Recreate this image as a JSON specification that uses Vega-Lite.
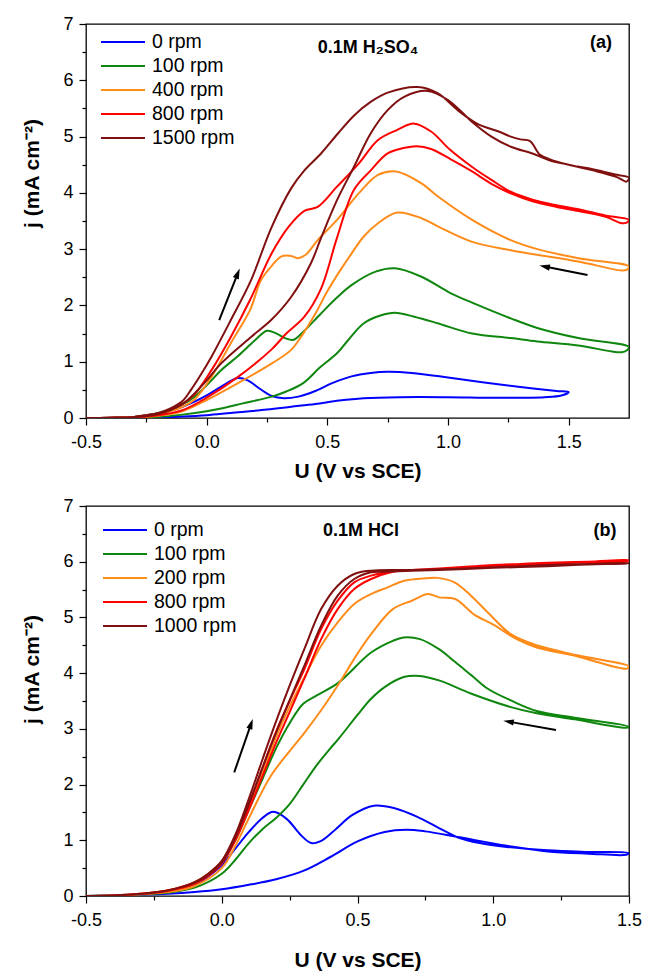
{
  "$schema": "https://vega.github.io/schema/vega-lite/v6.json",
  "background": "white",
  "padding": {"left": 20, "top": 14, "right": 5, "bottom": 5},
  "spacing": 14,
  "config": {
    "font": "Liberation Sans",
    "view": {"stroke": "#000000", "strokeWidth": 1.3},
    "axis": {"labelFont": "Liberation Sans", "labelFontSize": 18, "labelColor": "#000000", "titleFont": "Liberation Sans", "titleFontSize": 21, "titleFontWeight": "bold", "titleColor": "#000000", "tickColor": "#000000", "tickWidth": 1.2, "tickSize": 7, "domain": false, "grid": false, "labelFlush": false, "labelOverlap": false, "labelBound": false},
    "legend": {"orient": "none", "title": null, "symbolType": "stroke", "symbolSize": 1936, "symbolStrokeWidth": 2, "labelFont": "Liberation Sans", "labelFontSize": 19.5, "labelColor": "#000000", "labelOffset": 6, "rowPadding": 4, "clipHeight": 20, "padding": 0}
  },
  "resolve": {"scale": {"color": "independent"}, "legend": {"color": "independent"}},
  "datasets": {
    "a": [
      {"s":"0 rpm","o":1,"U":-0.5,"j":0},{"s":"0 rpm","o":2,"U":-0.4,"j":0.005},{"s":"0 rpm","o":3,"U":-0.3,"j":0.02},{"s":"0 rpm","o":4,"U":-0.25,"j":0.04},{"s":"0 rpm","o":5,"U":-0.2,"j":0.08},{"s":"0 rpm","o":6,"U":-0.15,"j":0.13},{"s":"0 rpm","o":7,"U":-0.1,"j":0.2},{"s":"0 rpm","o":8,"U":-0.05,"j":0.29},{"s":"0 rpm","o":9,"U":0.0,"j":0.4},{"s":"0 rpm","o":10,"U":0.05,"j":0.53},{"s":"0 rpm","o":11,"U":0.1,"j":0.66},{"s":"0 rpm","o":12,"U":0.13,"j":0.71},{"s":"0 rpm","o":13,"U":0.17,"j":0.67},{"s":"0 rpm","o":14,"U":0.22,"j":0.52},{"s":"0 rpm","o":15,"U":0.27,"j":0.39},{"s":"0 rpm","o":16,"U":0.32,"j":0.35},{"s":"0 rpm","o":17,"U":0.38,"j":0.38},{"s":"0 rpm","o":18,"U":0.45,"j":0.48},{"s":"0 rpm","o":19,"U":0.52,"j":0.62},{"s":"0 rpm","o":20,"U":0.6,"j":0.74},{"s":"0 rpm","o":21,"U":0.68,"j":0.8},{"s":"0 rpm","o":22,"U":0.75,"j":0.82},{"s":"0 rpm","o":23,"U":0.85,"j":0.8},{"s":"0 rpm","o":24,"U":1.0,"j":0.72},{"s":"0 rpm","o":25,"U":1.15,"j":0.63},{"s":"0 rpm","o":26,"U":1.3,"j":0.55},{"s":"0 rpm","o":27,"U":1.45,"j":0.48},{"s":"0 rpm","o":28,"U":1.5,"j":0.46},{"s":"0 rpm","o":29,"U":1.47,"j":0.4},{"s":"0 rpm","o":30,"U":1.4,"j":0.37},{"s":"0 rpm","o":31,"U":1.2,"j":0.36},{"s":"0 rpm","o":32,"U":1.0,"j":0.37},{"s":"0 rpm","o":33,"U":0.8,"j":0.37},{"s":"0 rpm","o":34,"U":0.65,"j":0.35},{"s":"0 rpm","o":35,"U":0.55,"j":0.31},{"s":"0 rpm","o":36,"U":0.45,"j":0.25},{"s":"0 rpm","o":37,"U":0.35,"j":0.2},{"s":"0 rpm","o":38,"U":0.25,"j":0.15},{"s":"0 rpm","o":39,"U":0.1,"j":0.09},{"s":"0 rpm","o":40,"U":0.0,"j":0.05},{"s":"0 rpm","o":41,"U":-0.1,"j":0.025},{"s":"0 rpm","o":42,"U":-0.2,"j":0.01},{"s":"0 rpm","o":43,"U":-0.35,"j":0.0},{"s":"0 rpm","o":44,"U":-0.5,"j":0},
      {"s":"100 rpm","o":1,"U":-0.5,"j":0},{"s":"100 rpm","o":2,"U":-0.4,"j":0.005},{"s":"100 rpm","o":3,"U":-0.3,"j":0.02},{"s":"100 rpm","o":4,"U":-0.25,"j":0.05},{"s":"100 rpm","o":5,"U":-0.2,"j":0.09},{"s":"100 rpm","o":6,"U":-0.15,"j":0.15},{"s":"100 rpm","o":7,"U":-0.1,"j":0.24},{"s":"100 rpm","o":8,"U":-0.05,"j":0.38},{"s":"100 rpm","o":9,"U":0.0,"j":0.58},{"s":"100 rpm","o":10,"U":0.06,"j":0.85},{"s":"100 rpm","o":11,"U":0.13,"j":1.1},{"s":"100 rpm","o":12,"U":0.2,"j":1.38},{"s":"100 rpm","o":13,"U":0.25,"j":1.55},{"s":"100 rpm","o":14,"U":0.29,"j":1.5},{"s":"100 rpm","o":15,"U":0.33,"j":1.41},{"s":"100 rpm","o":16,"U":0.36,"j":1.39},{"s":"100 rpm","o":17,"U":0.4,"j":1.53},{"s":"100 rpm","o":18,"U":0.47,"j":1.84},{"s":"100 rpm","o":19,"U":0.54,"j":2.14},{"s":"100 rpm","o":20,"U":0.6,"j":2.36},{"s":"100 rpm","o":21,"U":0.7,"j":2.6},{"s":"100 rpm","o":22,"U":0.78,"j":2.66},{"s":"100 rpm","o":23,"U":0.89,"j":2.51},{"s":"100 rpm","o":24,"U":1.01,"j":2.22},{"s":"100 rpm","o":25,"U":1.1,"j":2.05},{"s":"100 rpm","o":26,"U":1.26,"j":1.77},{"s":"100 rpm","o":27,"U":1.37,"j":1.6},{"s":"100 rpm","o":28,"U":1.54,"j":1.42},{"s":"100 rpm","o":29,"U":1.75,"j":1.26},{"s":"100 rpm","o":30,"U":1.74,"j":1.2},{"s":"100 rpm","o":31,"U":1.72,"j":1.17},{"s":"100 rpm","o":32,"U":1.68,"j":1.18},{"s":"100 rpm","o":33,"U":1.54,"j":1.29},{"s":"100 rpm","o":34,"U":1.37,"j":1.36},{"s":"100 rpm","o":35,"U":1.26,"j":1.42},{"s":"100 rpm","o":36,"U":1.1,"j":1.5},{"s":"100 rpm","o":37,"U":0.96,"j":1.68},{"s":"100 rpm","o":38,"U":0.86,"j":1.8},{"s":"100 rpm","o":39,"U":0.78,"j":1.87},{"s":"100 rpm","o":40,"U":0.72,"j":1.82},{"s":"100 rpm","o":41,"U":0.65,"j":1.68},{"s":"100 rpm","o":42,"U":0.58,"j":1.35},{"s":"100 rpm","o":43,"U":0.54,"j":1.15},{"s":"100 rpm","o":44,"U":0.47,"j":0.9},{"s":"100 rpm","o":45,"U":0.4,"j":0.62},{"s":"100 rpm","o":46,"U":0.33,"j":0.47},{"s":"100 rpm","o":47,"U":0.27,"j":0.38},{"s":"100 rpm","o":48,"U":0.15,"j":0.26},{"s":"100 rpm","o":49,"U":0.06,"j":0.17},{"s":"100 rpm","o":50,"U":0.0,"j":0.12},{"s":"100 rpm","o":51,"U":-0.1,"j":0.06},{"s":"100 rpm","o":52,"U":-0.2,"j":0.02},{"s":"100 rpm","o":53,"U":-0.35,"j":0.005},{"s":"100 rpm","o":54,"U":-0.5,"j":0},
      {"s":"400 rpm","o":1,"U":-0.5,"j":0},{"s":"400 rpm","o":2,"U":-0.4,"j":0.005},{"s":"400 rpm","o":3,"U":-0.3,"j":0.02},{"s":"400 rpm","o":4,"U":-0.25,"j":0.04},{"s":"400 rpm","o":5,"U":-0.2,"j":0.07},{"s":"400 rpm","o":6,"U":-0.15,"j":0.12},{"s":"400 rpm","o":7,"U":-0.1,"j":0.2},{"s":"400 rpm","o":8,"U":-0.05,"j":0.33},{"s":"400 rpm","o":9,"U":0.02,"j":0.73},{"s":"400 rpm","o":10,"U":0.1,"j":1.33},{"s":"400 rpm","o":11,"U":0.18,"j":1.92},{"s":"400 rpm","o":12,"U":0.225,"j":2.45},{"s":"400 rpm","o":13,"U":0.267,"j":2.69},{"s":"400 rpm","o":14,"U":0.31,"j":2.87},{"s":"400 rpm","o":15,"U":0.35,"j":2.88},{"s":"400 rpm","o":16,"U":0.38,"j":2.84},{"s":"400 rpm","o":17,"U":0.41,"j":2.9},{"s":"400 rpm","o":18,"U":0.46,"j":3.16},{"s":"400 rpm","o":19,"U":0.54,"j":3.52},{"s":"400 rpm","o":20,"U":0.63,"j":3.99},{"s":"400 rpm","o":21,"U":0.71,"j":4.32},{"s":"400 rpm","o":22,"U":0.785,"j":4.38},{"s":"400 rpm","o":23,"U":0.89,"j":4.17},{"s":"400 rpm","o":24,"U":0.96,"j":3.93},{"s":"400 rpm","o":25,"U":1.1,"j":3.52},{"s":"400 rpm","o":26,"U":1.26,"j":3.16},{"s":"400 rpm","o":27,"U":1.37,"j":3.0},{"s":"400 rpm","o":28,"U":1.54,"j":2.84},{"s":"400 rpm","o":29,"U":1.75,"j":2.69},{"s":"400 rpm","o":30,"U":1.74,"j":2.63},{"s":"400 rpm","o":31,"U":1.72,"j":2.62},{"s":"400 rpm","o":32,"U":1.54,"j":2.78},{"s":"400 rpm","o":33,"U":1.37,"j":2.9},{"s":"400 rpm","o":34,"U":1.26,"j":2.98},{"s":"400 rpm","o":35,"U":1.1,"j":3.13},{"s":"400 rpm","o":36,"U":0.96,"j":3.4},{"s":"400 rpm","o":37,"U":0.89,"j":3.55},{"s":"400 rpm","o":38,"U":0.79,"j":3.65},{"s":"400 rpm","o":39,"U":0.71,"j":3.46},{"s":"400 rpm","o":40,"U":0.65,"j":3.22},{"s":"400 rpm","o":41,"U":0.6,"j":2.92},{"s":"400 rpm","o":42,"U":0.55,"j":2.6},{"s":"400 rpm","o":43,"U":0.5,"j":2.25},{"s":"400 rpm","o":44,"U":0.45,"j":1.85},{"s":"400 rpm","o":45,"U":0.4,"j":1.5},{"s":"400 rpm","o":46,"U":0.35,"j":1.21},{"s":"400 rpm","o":47,"U":0.27,"j":0.97},{"s":"400 rpm","o":48,"U":0.13,"j":0.62},{"s":"400 rpm","o":49,"U":0.0,"j":0.32},{"s":"400 rpm","o":50,"U":-0.1,"j":0.12},{"s":"400 rpm","o":51,"U":-0.2,"j":0.04},{"s":"400 rpm","o":52,"U":-0.35,"j":0.005},{"s":"400 rpm","o":53,"U":-0.5,"j":0},
      {"s":"800 rpm","o":1,"U":-0.5,"j":0},{"s":"800 rpm","o":2,"U":-0.4,"j":0.005},{"s":"800 rpm","o":3,"U":-0.3,"j":0.02},{"s":"800 rpm","o":4,"U":-0.25,"j":0.05},{"s":"800 rpm","o":5,"U":-0.2,"j":0.08},{"s":"800 rpm","o":6,"U":-0.15,"j":0.15},{"s":"800 rpm","o":7,"U":-0.1,"j":0.25},{"s":"800 rpm","o":8,"U":-0.05,"j":0.42},{"s":"800 rpm","o":9,"U":0.02,"j":0.85},{"s":"800 rpm","o":10,"U":0.1,"j":1.44},{"s":"800 rpm","o":11,"U":0.18,"j":2.1},{"s":"800 rpm","o":12,"U":0.27,"j":2.93},{"s":"800 rpm","o":13,"U":0.34,"j":3.4},{"s":"800 rpm","o":14,"U":0.405,"j":3.68},{"s":"800 rpm","o":15,"U":0.46,"j":3.75},{"s":"800 rpm","o":16,"U":0.54,"j":4.11},{"s":"800 rpm","o":17,"U":0.63,"j":4.52},{"s":"800 rpm","o":18,"U":0.71,"j":4.94},{"s":"800 rpm","o":19,"U":0.79,"j":5.12},{"s":"800 rpm","o":20,"U":0.86,"j":5.23},{"s":"800 rpm","o":21,"U":0.93,"j":5.09},{"s":"800 rpm","o":22,"U":1.01,"j":4.76},{"s":"800 rpm","o":23,"U":1.1,"j":4.46},{"s":"800 rpm","o":24,"U":1.18,"j":4.23},{"s":"800 rpm","o":25,"U":1.26,"j":4.02},{"s":"800 rpm","o":26,"U":1.35,"j":3.88},{"s":"800 rpm","o":27,"U":1.45,"j":3.78},{"s":"800 rpm","o":28,"U":1.55,"j":3.7},{"s":"800 rpm","o":29,"U":1.65,"j":3.6},{"s":"800 rpm","o":30,"U":1.75,"j":3.52},{"s":"800 rpm","o":31,"U":1.74,"j":3.47},{"s":"800 rpm","o":32,"U":1.72,"j":3.46},{"s":"800 rpm","o":33,"U":1.65,"j":3.58},{"s":"800 rpm","o":34,"U":1.55,"j":3.67},{"s":"800 rpm","o":35,"U":1.45,"j":3.75},{"s":"800 rpm","o":36,"U":1.35,"j":3.85},{"s":"800 rpm","o":37,"U":1.26,"j":3.99},{"s":"800 rpm","o":38,"U":1.18,"j":4.16},{"s":"800 rpm","o":39,"U":1.1,"j":4.38},{"s":"800 rpm","o":40,"U":1.01,"j":4.6},{"s":"800 rpm","o":41,"U":0.93,"j":4.78},{"s":"800 rpm","o":42,"U":0.87,"j":4.83},{"s":"800 rpm","o":43,"U":0.82,"j":4.8},{"s":"800 rpm","o":44,"U":0.75,"j":4.7},{"s":"800 rpm","o":45,"U":0.68,"j":4.4},{"s":"800 rpm","o":46,"U":0.61,"j":4.05},{"s":"800 rpm","o":47,"U":0.54,"j":3.2},{"s":"800 rpm","o":48,"U":0.474,"j":2.3},{"s":"800 rpm","o":49,"U":0.405,"j":1.8},{"s":"800 rpm","o":50,"U":0.33,"j":1.5},{"s":"800 rpm","o":51,"U":0.267,"j":1.21},{"s":"800 rpm","o":52,"U":0.13,"j":0.73},{"s":"800 rpm","o":53,"U":0.0,"j":0.36},{"s":"800 rpm","o":54,"U":-0.1,"j":0.14},{"s":"800 rpm","o":55,"U":-0.2,"j":0.05},{"s":"800 rpm","o":56,"U":-0.35,"j":0.005},{"s":"800 rpm","o":57,"U":-0.5,"j":0},
      {"s":"1500 rpm","o":1,"U":-0.5,"j":0},{"s":"1500 rpm","o":2,"U":-0.4,"j":0.005},{"s":"1500 rpm","o":3,"U":-0.3,"j":0.02},{"s":"1500 rpm","o":4,"U":-0.25,"j":0.05},{"s":"1500 rpm","o":5,"U":-0.2,"j":0.09},{"s":"1500 rpm","o":6,"U":-0.15,"j":0.17},{"s":"1500 rpm","o":7,"U":-0.1,"j":0.3},{"s":"1500 rpm","o":8,"U":-0.065,"j":0.5},{"s":"1500 rpm","o":9,"U":-0.02,"j":0.8},{"s":"1500 rpm","o":10,"U":0.02,"j":1.09},{"s":"1500 rpm","o":11,"U":0.1,"j":1.74},{"s":"1500 rpm","o":12,"U":0.184,"j":2.45},{"s":"1500 rpm","o":13,"U":0.267,"j":3.37},{"s":"1500 rpm","o":14,"U":0.35,"j":4.08},{"s":"1500 rpm","o":15,"U":0.405,"j":4.4},{"s":"1500 rpm","o":16,"U":0.474,"j":4.7},{"s":"1500 rpm","o":17,"U":0.543,"j":5.05},{"s":"1500 rpm","o":18,"U":0.612,"j":5.38},{"s":"1500 rpm","o":19,"U":0.681,"j":5.62},{"s":"1500 rpm","o":20,"U":0.75,"j":5.78},{"s":"1500 rpm","o":21,"U":0.874,"j":5.88},{"s":"1500 rpm","o":22,"U":0.957,"j":5.77},{"s":"1500 rpm","o":23,"U":1.04,"j":5.47},{"s":"1500 rpm","o":24,"U":1.12,"j":5.23},{"s":"1500 rpm","o":25,"U":1.21,"j":5.09},{"s":"1500 rpm","o":26,"U":1.26,"j":5.0},{"s":"1500 rpm","o":27,"U":1.3,"j":4.95},{"s":"1500 rpm","o":28,"U":1.34,"j":4.92},{"s":"1500 rpm","o":29,"U":1.38,"j":4.68},{"s":"1500 rpm","o":30,"U":1.42,"j":4.6},{"s":"1500 rpm","o":31,"U":1.5,"j":4.5},{"s":"1500 rpm","o":32,"U":1.6,"j":4.42},{"s":"1500 rpm","o":33,"U":1.7,"j":4.32},{"s":"1500 rpm","o":34,"U":1.75,"j":4.27},{"s":"1500 rpm","o":35,"U":1.74,"j":4.2},{"s":"1500 rpm","o":36,"U":1.7,"j":4.28},{"s":"1500 rpm","o":37,"U":1.6,"j":4.4},{"s":"1500 rpm","o":38,"U":1.5,"j":4.5},{"s":"1500 rpm","o":39,"U":1.42,"j":4.58},{"s":"1500 rpm","o":40,"U":1.35,"j":4.7},{"s":"1500 rpm","o":41,"U":1.26,"j":4.82},{"s":"1500 rpm","o":42,"U":1.18,"j":5.0},{"s":"1500 rpm","o":43,"U":1.1,"j":5.26},{"s":"1500 rpm","o":44,"U":1.0,"j":5.65},{"s":"1500 rpm","o":45,"U":0.916,"j":5.81},{"s":"1500 rpm","o":46,"U":0.82,"j":5.71},{"s":"1500 rpm","o":47,"U":0.75,"j":5.47},{"s":"1500 rpm","o":48,"U":0.68,"j":5.06},{"s":"1500 rpm","o":49,"U":0.61,"j":4.46},{"s":"1500 rpm","o":50,"U":0.54,"j":3.87},{"s":"1500 rpm","o":51,"U":0.474,"j":3.2},{"s":"1500 rpm","o":52,"U":0.432,"j":2.75},{"s":"1500 rpm","o":53,"U":0.35,"j":2.15},{"s":"1500 rpm","o":54,"U":0.267,"j":1.74},{"s":"1500 rpm","o":55,"U":0.184,"j":1.44},{"s":"1500 rpm","o":56,"U":0.06,"j":0.97},{"s":"1500 rpm","o":57,"U":-0.01,"j":0.62},{"s":"1500 rpm","o":58,"U":-0.1,"j":0.25},{"s":"1500 rpm","o":59,"U":-0.2,"j":0.07},{"s":"1500 rpm","o":60,"U":-0.35,"j":0.005},{"s":"1500 rpm","o":61,"U":-0.5,"j":0}
    ],
    "b": [
      {"s":"0 rpm","o":1,"U":-0.5,"j":0},{"s":"0 rpm","o":2,"U":-0.4,"j":0.01},{"s":"0 rpm","o":3,"U":-0.3,"j":0.03},{"s":"0 rpm","o":4,"U":-0.2,"j":0.07},{"s":"0 rpm","o":5,"U":-0.1,"j":0.2},{"s":"0 rpm","o":6,"U":-0.05,"j":0.35},{"s":"0 rpm","o":7,"U":0.0,"j":0.55},{"s":"0 rpm","o":8,"U":0.05,"j":0.85},{"s":"0 rpm","o":9,"U":0.1,"j":1.15},{"s":"0 rpm","o":10,"U":0.15,"j":1.4},{"s":"0 rpm","o":11,"U":0.19,"j":1.51},{"s":"0 rpm","o":12,"U":0.24,"j":1.38},{"s":"0 rpm","o":13,"U":0.29,"j":1.1},{"s":"0 rpm","o":14,"U":0.33,"j":0.95},{"s":"0 rpm","o":15,"U":0.37,"j":1.0},{"s":"0 rpm","o":16,"U":0.42,"j":1.2},{"s":"0 rpm","o":17,"U":0.48,"j":1.45},{"s":"0 rpm","o":18,"U":0.56,"j":1.62},{"s":"0 rpm","o":19,"U":0.64,"j":1.57},{"s":"0 rpm","o":20,"U":0.72,"j":1.42},{"s":"0 rpm","o":21,"U":0.8,"j":1.22},{"s":"0 rpm","o":22,"U":0.87,"j":1.05},{"s":"0 rpm","o":23,"U":0.95,"j":0.95},{"s":"0 rpm","o":24,"U":1.05,"j":0.88},{"s":"0 rpm","o":25,"U":1.2,"j":0.82},{"s":"0 rpm","o":26,"U":1.35,"j":0.79},{"s":"0 rpm","o":27,"U":1.5,"j":0.77},{"s":"0 rpm","o":28,"U":1.49,"j":0.74},{"s":"0 rpm","o":29,"U":1.35,"j":0.76},{"s":"0 rpm","o":30,"U":1.2,"j":0.8},{"s":"0 rpm","o":31,"U":1.05,"j":0.9},{"s":"0 rpm","o":32,"U":0.87,"j":1.06},{"s":"0 rpm","o":33,"U":0.75,"j":1.16},{"s":"0 rpm","o":34,"U":0.68,"j":1.19},{"s":"0 rpm","o":35,"U":0.6,"j":1.15},{"s":"0 rpm","o":36,"U":0.5,"j":0.98},{"s":"0 rpm","o":37,"U":0.4,"j":0.7},{"s":"0 rpm","o":38,"U":0.3,"j":0.45},{"s":"0 rpm","o":39,"U":0.2,"j":0.3},{"s":"0 rpm","o":40,"U":0.1,"j":0.2},{"s":"0 rpm","o":41,"U":0.0,"j":0.12},{"s":"0 rpm","o":42,"U":-0.1,"j":0.07},{"s":"0 rpm","o":43,"U":-0.2,"j":0.04},{"s":"0 rpm","o":44,"U":-0.35,"j":0.02},{"s":"0 rpm","o":45,"U":-0.5,"j":0},
      {"s":"100 rpm","o":1,"U":-0.5,"j":0},{"s":"100 rpm","o":2,"U":-0.4,"j":0.01},{"s":"100 rpm","o":3,"U":-0.3,"j":0.03},{"s":"100 rpm","o":4,"U":-0.2,"j":0.08},{"s":"100 rpm","o":5,"U":-0.1,"j":0.22},{"s":"100 rpm","o":6,"U":-0.05,"j":0.38},{"s":"100 rpm","o":7,"U":0.0,"j":0.6},{"s":"100 rpm","o":8,"U":0.05,"j":1.0},{"s":"100 rpm","o":9,"U":0.1,"j":1.55},{"s":"100 rpm","o":10,"U":0.15,"j":2.1},{"s":"100 rpm","o":11,"U":0.2,"j":2.65},{"s":"100 rpm","o":12,"U":0.25,"j":3.1},{"s":"100 rpm","o":13,"U":0.3,"j":3.45},{"s":"100 rpm","o":14,"U":0.35,"j":3.6},{"s":"100 rpm","o":15,"U":0.43,"j":3.83},{"s":"100 rpm","o":16,"U":0.55,"j":4.37},{"s":"100 rpm","o":17,"U":0.63,"j":4.58},{"s":"100 rpm","o":18,"U":0.67,"j":4.64},{"s":"100 rpm","o":19,"U":0.73,"j":4.61},{"s":"100 rpm","o":20,"U":0.8,"j":4.43},{"s":"100 rpm","o":21,"U":0.86,"j":4.2},{"s":"100 rpm","o":22,"U":0.92,"j":3.96},{"s":"100 rpm","o":23,"U":0.98,"j":3.72},{"s":"100 rpm","o":24,"U":1.065,"j":3.51},{"s":"100 rpm","o":25,"U":1.16,"j":3.32},{"s":"100 rpm","o":26,"U":1.3,"j":3.2},{"s":"100 rpm","o":27,"U":1.5,"j":3.04},{"s":"100 rpm","o":28,"U":1.49,"j":3.02},{"s":"100 rpm","o":29,"U":1.3,"j":3.17},{"s":"100 rpm","o":30,"U":1.16,"j":3.28},{"s":"100 rpm","o":31,"U":1.065,"j":3.39},{"s":"100 rpm","o":32,"U":0.92,"j":3.63},{"s":"100 rpm","o":33,"U":0.8,"j":3.87},{"s":"100 rpm","o":34,"U":0.73,"j":3.95},{"s":"100 rpm","o":35,"U":0.67,"j":3.93},{"s":"100 rpm","o":36,"U":0.6,"j":3.75},{"s":"100 rpm","o":37,"U":0.55,"j":3.54},{"s":"100 rpm","o":38,"U":0.5,"j":3.25},{"s":"100 rpm","o":39,"U":0.43,"j":2.82},{"s":"100 rpm","o":40,"U":0.4,"j":2.65},{"s":"100 rpm","o":41,"U":0.35,"j":2.35},{"s":"100 rpm","o":42,"U":0.3,"j":2.0},{"s":"100 rpm","o":43,"U":0.25,"j":1.65},{"s":"100 rpm","o":44,"U":0.2,"j":1.4},{"s":"100 rpm","o":45,"U":0.15,"j":1.2},{"s":"100 rpm","o":46,"U":0.1,"j":0.95},{"s":"100 rpm","o":47,"U":0.05,"j":0.65},{"s":"100 rpm","o":48,"U":0.0,"j":0.4},{"s":"100 rpm","o":49,"U":-0.1,"j":0.15},{"s":"100 rpm","o":50,"U":-0.2,"j":0.06},{"s":"100 rpm","o":51,"U":-0.35,"j":0.02},{"s":"100 rpm","o":52,"U":-0.5,"j":0},
      {"s":"200 rpm","o":1,"U":-0.5,"j":0},{"s":"200 rpm","o":2,"U":-0.4,"j":0.01},{"s":"200 rpm","o":3,"U":-0.3,"j":0.04},{"s":"200 rpm","o":4,"U":-0.2,"j":0.1},{"s":"200 rpm","o":5,"U":-0.1,"j":0.25},{"s":"200 rpm","o":6,"U":-0.05,"j":0.4},{"s":"200 rpm","o":7,"U":0.0,"j":0.62},{"s":"200 rpm","o":8,"U":0.05,"j":1.05},{"s":"200 rpm","o":9,"U":0.1,"j":1.6},{"s":"200 rpm","o":10,"U":0.15,"j":2.2},{"s":"200 rpm","o":11,"U":0.2,"j":2.85},{"s":"200 rpm","o":12,"U":0.25,"j":3.4},{"s":"200 rpm","o":13,"U":0.3,"j":3.88},{"s":"200 rpm","o":14,"U":0.366,"j":4.49},{"s":"200 rpm","o":15,"U":0.427,"j":4.91},{"s":"200 rpm","o":16,"U":0.488,"j":5.24},{"s":"200 rpm","o":17,"U":0.55,"j":5.42},{"s":"200 rpm","o":18,"U":0.611,"j":5.54},{"s":"200 rpm","o":19,"U":0.672,"j":5.66},{"s":"200 rpm","o":20,"U":0.74,"j":5.7},{"s":"200 rpm","o":21,"U":0.795,"j":5.71},{"s":"200 rpm","o":22,"U":0.857,"j":5.63},{"s":"200 rpm","o":23,"U":0.918,"j":5.39},{"s":"200 rpm","o":24,"U":0.98,"j":5.09},{"s":"200 rpm","o":25,"U":1.065,"j":4.7},{"s":"200 rpm","o":26,"U":1.16,"j":4.5},{"s":"200 rpm","o":27,"U":1.31,"j":4.32},{"s":"200 rpm","o":28,"U":1.5,"j":4.12},{"s":"200 rpm","o":29,"U":1.49,"j":4.08},{"s":"200 rpm","o":30,"U":1.31,"j":4.3},{"s":"200 rpm","o":31,"U":1.16,"j":4.46},{"s":"200 rpm","o":32,"U":1.09,"j":4.6},{"s":"200 rpm","o":33,"U":1.0,"j":4.87},{"s":"200 rpm","o":34,"U":0.93,"j":5.05},{"s":"200 rpm","o":35,"U":0.86,"j":5.33},{"s":"200 rpm","o":36,"U":0.8,"j":5.36},{"s":"200 rpm","o":37,"U":0.76,"j":5.42},{"s":"200 rpm","o":38,"U":0.7,"j":5.3},{"s":"200 rpm","o":39,"U":0.63,"j":5.15},{"s":"200 rpm","o":40,"U":0.55,"j":4.7},{"s":"200 rpm","o":41,"U":0.5,"j":4.35},{"s":"200 rpm","o":42,"U":0.43,"j":3.8},{"s":"200 rpm","o":43,"U":0.37,"j":3.36},{"s":"200 rpm","o":44,"U":0.3,"j":2.9},{"s":"200 rpm","o":45,"U":0.25,"j":2.6},{"s":"200 rpm","o":46,"U":0.18,"j":2.15},{"s":"200 rpm","o":47,"U":0.1,"j":1.4},{"s":"200 rpm","o":48,"U":0.05,"j":0.9},{"s":"200 rpm","o":49,"U":0.0,"j":0.5},{"s":"200 rpm","o":50,"U":-0.1,"j":0.18},{"s":"200 rpm","o":51,"U":-0.2,"j":0.07},{"s":"200 rpm","o":52,"U":-0.35,"j":0.02},{"s":"200 rpm","o":53,"U":-0.5,"j":0},
      {"s":"800 rpm","o":1,"U":-0.5,"j":0},{"s":"800 rpm","o":2,"U":-0.4,"j":0.01},{"s":"800 rpm","o":3,"U":-0.3,"j":0.04},{"s":"800 rpm","o":4,"U":-0.2,"j":0.1},{"s":"800 rpm","o":5,"U":-0.1,"j":0.24},{"s":"800 rpm","o":6,"U":-0.05,"j":0.38},{"s":"800 rpm","o":7,"U":0.0,"j":0.6},{"s":"800 rpm","o":8,"U":0.05,"j":1.05},{"s":"800 rpm","o":9,"U":0.1,"j":1.65},{"s":"800 rpm","o":10,"U":0.15,"j":2.3},{"s":"800 rpm","o":11,"U":0.2,"j":2.95},{"s":"800 rpm","o":12,"U":0.25,"j":3.5},{"s":"800 rpm","o":13,"U":0.304,"j":4.07},{"s":"800 rpm","o":14,"U":0.366,"j":4.79},{"s":"800 rpm","o":15,"U":0.427,"j":5.3},{"s":"800 rpm","o":16,"U":0.488,"j":5.63},{"s":"800 rpm","o":17,"U":0.55,"j":5.75},{"s":"800 rpm","o":18,"U":0.62,"j":5.82},{"s":"800 rpm","o":19,"U":0.7,"j":5.85},{"s":"800 rpm","o":20,"U":0.8,"j":5.88},{"s":"800 rpm","o":21,"U":0.9,"j":5.91},{"s":"800 rpm","o":22,"U":1.0,"j":5.94},{"s":"800 rpm","o":23,"U":1.1,"j":5.96},{"s":"800 rpm","o":24,"U":1.2,"j":5.98},{"s":"800 rpm","o":25,"U":1.35,"j":6.0},{"s":"800 rpm","o":26,"U":1.5,"j":6.03},{"s":"800 rpm","o":27,"U":1.49,"j":6.01},{"s":"800 rpm","o":28,"U":1.35,"j":5.99},{"s":"800 rpm","o":29,"U":1.2,"j":5.96},{"s":"800 rpm","o":30,"U":1.0,"j":5.92},{"s":"800 rpm","o":31,"U":0.8,"j":5.87},{"s":"800 rpm","o":32,"U":0.7,"j":5.85},{"s":"800 rpm","o":33,"U":0.623,"j":5.81},{"s":"800 rpm","o":34,"U":0.55,"j":5.69},{"s":"800 rpm","o":35,"U":0.488,"j":5.51},{"s":"800 rpm","o":36,"U":0.427,"j":5.15},{"s":"800 rpm","o":37,"U":0.366,"j":4.61},{"s":"800 rpm","o":38,"U":0.304,"j":3.9},{"s":"800 rpm","o":39,"U":0.25,"j":3.3},{"s":"800 rpm","o":40,"U":0.2,"j":2.75},{"s":"800 rpm","o":41,"U":0.15,"j":2.15},{"s":"800 rpm","o":42,"U":0.1,"j":1.55},{"s":"800 rpm","o":43,"U":0.05,"j":1.0},{"s":"800 rpm","o":44,"U":0.0,"j":0.58},{"s":"800 rpm","o":45,"U":-0.05,"j":0.36},{"s":"800 rpm","o":46,"U":-0.1,"j":0.22},{"s":"800 rpm","o":47,"U":-0.2,"j":0.09},{"s":"800 rpm","o":48,"U":-0.3,"j":0.035},{"s":"800 rpm","o":49,"U":-0.4,"j":0.01},{"s":"800 rpm","o":50,"U":-0.5,"j":0},
      {"s":"1000 rpm","o":1,"U":-0.5,"j":0},{"s":"1000 rpm","o":2,"U":-0.4,"j":0.01},{"s":"1000 rpm","o":3,"U":-0.3,"j":0.04},{"s":"1000 rpm","o":4,"U":-0.2,"j":0.1},{"s":"1000 rpm","o":5,"U":-0.1,"j":0.25},{"s":"1000 rpm","o":6,"U":-0.05,"j":0.4},{"s":"1000 rpm","o":7,"U":0.0,"j":0.63},{"s":"1000 rpm","o":8,"U":0.05,"j":1.1},{"s":"1000 rpm","o":9,"U":0.1,"j":1.75},{"s":"1000 rpm","o":10,"U":0.15,"j":2.45},{"s":"1000 rpm","o":11,"U":0.181,"j":2.88},{"s":"1000 rpm","o":12,"U":0.24,"j":3.65},{"s":"1000 rpm","o":13,"U":0.304,"j":4.43},{"s":"1000 rpm","o":14,"U":0.366,"j":5.15},{"s":"1000 rpm","o":15,"U":0.427,"j":5.57},{"s":"1000 rpm","o":16,"U":0.488,"j":5.78},{"s":"1000 rpm","o":17,"U":0.55,"j":5.84},{"s":"1000 rpm","o":18,"U":0.7,"j":5.85},{"s":"1000 rpm","o":19,"U":0.85,"j":5.87},{"s":"1000 rpm","o":20,"U":1.0,"j":5.9},{"s":"1000 rpm","o":21,"U":1.2,"j":5.94},{"s":"1000 rpm","o":22,"U":1.35,"j":5.96},{"s":"1000 rpm","o":23,"U":1.5,"j":5.98},{"s":"1000 rpm","o":24,"U":1.49,"j":5.97},{"s":"1000 rpm","o":25,"U":1.35,"j":5.95},{"s":"1000 rpm","o":26,"U":1.2,"j":5.92},{"s":"1000 rpm","o":27,"U":1.0,"j":5.89},{"s":"1000 rpm","o":28,"U":0.85,"j":5.86},{"s":"1000 rpm","o":29,"U":0.7,"j":5.84},{"s":"1000 rpm","o":30,"U":0.6,"j":5.82},{"s":"1000 rpm","o":31,"U":0.55,"j":5.81},{"s":"1000 rpm","o":32,"U":0.488,"j":5.69},{"s":"1000 rpm","o":33,"U":0.427,"j":5.39},{"s":"1000 rpm","o":34,"U":0.366,"j":4.85},{"s":"1000 rpm","o":35,"U":0.304,"j":4.13},{"s":"1000 rpm","o":36,"U":0.24,"j":3.4},{"s":"1000 rpm","o":37,"U":0.181,"j":2.7},{"s":"1000 rpm","o":38,"U":0.15,"j":2.3},{"s":"1000 rpm","o":39,"U":0.1,"j":1.65},{"s":"1000 rpm","o":40,"U":0.05,"j":1.05},{"s":"1000 rpm","o":41,"U":0.0,"j":0.6},{"s":"1000 rpm","o":42,"U":-0.05,"j":0.38},{"s":"1000 rpm","o":43,"U":-0.1,"j":0.24},{"s":"1000 rpm","o":44,"U":-0.2,"j":0.1},{"s":"1000 rpm","o":45,"U":-0.3,"j":0.04},{"s":"1000 rpm","o":46,"U":-0.4,"j":0.01},{"s":"1000 rpm","o":47,"U":-0.5,"j":0}
    ],
    "ta": [{"t":"0.1M H₂SO₄","U":0.669,"j":6.57},{"t":"(a)","U":1.634,"j":6.66}],
    "tb": [{"t":"0.1M HCl","U":0.513,"j":6.55},{"t":"(b)","U":1.412,"j":6.55}],
    "arra": [{"k":"up","U":0.052,"j":1.74,"U2":0.129,"j2":2.57},{"k":"left","U":1.578,"j":2.54,"U2":1.40,"j2":2.69}],
    "arrb": [{"k":"up","U":0.046,"j":2.22,"U2":0.108,"j2":3.09},{"k":"left","U":1.231,"j":2.98,"U2":1.056,"j2":3.13}]
  },
  "vconcat": [
    {
      "width": 543,
      "height": 394,
      "resolve": {"axis": {"x": "independent", "y": "independent"}},
      "layer": [
        {
          "data": {"name": "a"},
          "mark": {"type": "line", "strokeWidth": 2, "clip": true, "interpolate": "catmull-rom"},
          "encoding": {
            "x": {"field": "U", "type": "quantitative", "scale": {"domain": [-0.5, 1.75], "nice": false, "zero": false},
                  "axis": {"orient": "bottom", "values": [-0.5, 0, 0.5, 1, 1.5], "labelExpr": "datum.value < 0 ? '-' + format(-datum.value, '.1f') : format(datum.value, '.1f')", "labelPadding": 8, "title": "U (V vs SCE)", "titlePadding": 9}},
            "y": {"field": "j", "type": "quantitative", "scale": {"domain": [0, 7], "nice": false, "zero": true},
                  "axis": {"orient": "left", "values": [0, 1, 2, 3, 4, 5, 6, 7], "format": "d", "labelPadding": 6, "title": "j (mA cm⁻²)", "titleX": -44, "titleY": 149}},
            "color": {"field": "s", "type": "nominal",
                      "scale": {"domain": ["0 rpm", "100 rpm", "400 rpm", "800 rpm", "1500 rpm"], "range": ["#0000ff", "#0f870f", "#ff8c1a", "#ff0000", "#801010"]},
                      "legend": {"legendX": 14, "legendY": 8}},
            "order": {"field": "o", "type": "quantitative"}
          }
        },
        {
          "data": {"name": "ta"},
          "mark": {"type": "text", "font": "Liberation Sans", "fontSize": 18, "fontWeight": "bold", "align": "center", "baseline": "middle", "color": "#000000"},
          "encoding": {
            "x": {"field": "U", "type": "quantitative", "axis": {"orient": "bottom", "values": [-0.25, 0.25, 0.75, 1.25], "labels": false, "tickSize": 4, "title": null}},
            "y": {"field": "j", "type": "quantitative", "axis": {"orient": "left", "values": [0.5, 1.5, 2.5, 3.5, 4.5, 5.5, 6.5], "labels": false, "tickSize": 4, "title": null}},
            "text": {"field": "t", "type": "nominal"}
          }
        },
        {
          "data": {"name": "arra"},
          "mark": {"type": "rule", "strokeWidth": 2, "color": "#000000"},
          "encoding": {
            "x": {"field": "U", "type": "quantitative", "axis": null},
            "y": {"field": "j", "type": "quantitative", "axis": null},
            "x2": {"field": "U2"},
            "y2": {"field": "j2"}
          }
        },
        {
          "data": {"name": "arra"},
          "transform": [{"filter": "datum.k == 'up'"}],
          "mark": {"type": "point", "shape": "M0,-1L0.6,1L-0.6,1Z", "size": 110, "filled": true, "color": "#000000", "opacity": 1, "angle": 22},
          "encoding": {
            "x": {"field": "U2", "type": "quantitative", "axis": null},
            "y": {"field": "j2", "type": "quantitative", "axis": null}
          }
        },
        {
          "data": {"name": "arra"},
          "transform": [{"filter": "datum.k == 'left'"}],
          "mark": {"type": "point", "shape": "M0,-1L0.6,1L-0.6,1Z", "size": 110, "filled": true, "color": "#000000", "opacity": 1, "angle": 281},
          "encoding": {
            "x": {"field": "U2", "type": "quantitative", "axis": null},
            "y": {"field": "j2", "type": "quantitative", "axis": null}
          }
        }
      ]
    },
    {
      "width": 543,
      "height": 390,
      "resolve": {"axis": {"x": "independent", "y": "independent"}},
      "layer": [
        {
          "data": {"name": "b"},
          "mark": {"type": "line", "strokeWidth": 2, "clip": true, "interpolate": "catmull-rom"},
          "encoding": {
            "x": {"field": "U", "type": "quantitative", "scale": {"domain": [-0.5, 1.5], "nice": false, "zero": false},
                  "axis": {"orient": "bottom", "values": [-0.5, 0, 0.5, 1, 1.5], "labelExpr": "datum.value < 0 ? '-' + format(-datum.value, '.1f') : format(datum.value, '.1f')", "labelPadding": 8, "title": "U (V vs SCE)", "titlePadding": 20}},
            "y": {"field": "j", "type": "quantitative", "scale": {"domain": [0, 7], "nice": false, "zero": true},
                  "axis": {"orient": "left", "values": [0, 1, 2, 3, 4, 5, 6, 7], "format": "d", "labelPadding": 6, "title": "j (mA cm⁻²)", "titleX": -44, "titleY": 163}},
            "color": {"field": "s", "type": "nominal",
                      "scale": {"domain": ["0 rpm", "100 rpm", "200 rpm", "800 rpm", "1000 rpm"], "range": ["#0000ff", "#0f870f", "#ff8c1a", "#ff0000", "#801010"]},
                      "legend": {"legendX": 16, "legendY": 14}},
            "order": {"field": "o", "type": "quantitative"}
          }
        },
        {
          "data": {"name": "tb"},
          "mark": {"type": "text", "font": "Liberation Sans", "fontSize": 18, "fontWeight": "bold", "align": "center", "baseline": "middle", "color": "#000000"},
          "encoding": {
            "x": {"field": "U", "type": "quantitative", "axis": {"orient": "bottom", "values": [-0.25, 0.25, 0.75, 1.25], "labels": false, "tickSize": 4, "title": null}},
            "y": {"field": "j", "type": "quantitative", "axis": {"orient": "left", "values": [0.5, 1.5, 2.5, 3.5, 4.5, 5.5, 6.5], "labels": false, "tickSize": 4, "title": null}},
            "text": {"field": "t", "type": "nominal"}
          }
        },
        {
          "data": {"name": "arrb"},
          "mark": {"type": "rule", "strokeWidth": 2, "color": "#000000"},
          "encoding": {
            "x": {"field": "U", "type": "quantitative", "axis": null},
            "y": {"field": "j", "type": "quantitative", "axis": null},
            "x2": {"field": "U2"},
            "y2": {"field": "j2"}
          }
        },
        {
          "data": {"name": "arrb"},
          "transform": [{"filter": "datum.k == 'up'"}],
          "mark": {"type": "point", "shape": "M0,-1L0.6,1L-0.6,1Z", "size": 110, "filled": true, "color": "#000000", "opacity": 1, "angle": 19},
          "encoding": {
            "x": {"field": "U2", "type": "quantitative", "axis": null},
            "y": {"field": "j2", "type": "quantitative", "axis": null}
          }
        },
        {
          "data": {"name": "arrb"},
          "transform": [{"filter": "datum.k == 'left'"}],
          "mark": {"type": "point", "shape": "M0,-1L0.6,1L-0.6,1Z", "size": 110, "filled": true, "color": "#000000", "opacity": 1, "angle": 280},
          "encoding": {
            "x": {"field": "U2", "type": "quantitative", "axis": null},
            "y": {"field": "j2", "type": "quantitative", "axis": null}
          }
        }
      ]
    }
  ]
}
